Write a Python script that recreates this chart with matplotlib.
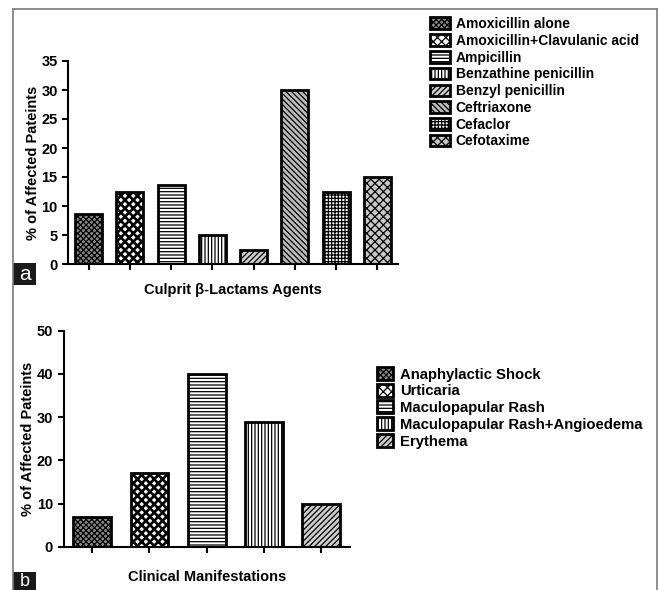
import matplotlib.pyplot as plt
from matplotlib.patches import Rectangle
from matplotlib.lines import Line2D

plt.rcParams['font.family'] = ['Liberation Sans', 'DejaVu Sans']
plt.rcParams['font.weight'] = 'bold'
plt.rcParams['hatch.linewidth'] = 0.9

# panel a: culprit beta-lactam agents
agents = ["Amoxicillin alone", "Amoxicillin+Clavulanic acid", "Ampicillin",
          "Benzathine penicillin", "Benzyl penicillin", "Ceftriaxone",
          "Cefaclor", "Cefotaxime"]
agent_pct = [8.7, 12.5, 13.7, 5.0, 2.5, 30.0, 12.5, 15.0]

# panel b: clinical manifestations
manifestations = ["Anaphylactic Shock", "Urticaria", "Maculopapular Rash",
                  "Maculopapular Rash+Angioedema", "Erythema"]
manif_pct = [7, 17, 40, 29, 10]

hatches = ['xxxxxx', 'xxxx', '-----', '|||||', '//////', '\\\\\\\\\\\\', '+++++', 'xxxx']
hatch_lw = [0.9, 1.9, 0.9, 0.9, 0.9, 0.9, 0.9, 0.9]
faces = ['#8a8a8a', 'white', 'white', 'white', '#cfcfcf', '#bdbdbd', 'white', '#c8c8c8']

W, H = 659, 590
fig = plt.figure(figsize=(W / 100, H / 100), dpi=100)


def px_axes(left, top, right, bottom):
    return fig.add_axes([left / W, 1 - bottom / H, (right - left) / W, (bottom - top) / H])


def draw_panel(ax, values, ymax, step, xlabel, xpad):
    bars = []
    for i, v in enumerate(values):
        with plt.rc_context({'hatch.linewidth': hatch_lw[i]}):
            b = ax.bar(i, v, width=0.66, color=faces[i], edgecolor='black',
                       linewidth=2, hatch=hatches[i], zorder=2)
        bars.append(b[0])
    ax.set_xlim(-0.5, len(values) - 0.5)
    ax.set_ylim(0, ymax)
    ax.set_yticks(range(0, ymax + 1, step))
    ax.set_xticks(range(len(values)))
    ax.set_xticklabels([])
    for s in ['top', 'right']:
        ax.spines[s].set_visible(False)
    for s in ['left', 'bottom']:
        ax.spines[s].set_linewidth(1.5)
    ax.tick_params(axis='both', direction='out', length=4, width=1.5, labelsize=10.5)
    ax.set_ylabel("% of Affected Pateints", fontsize=10.5, fontweight='bold', labelpad=1)
    ax.set_xlabel(xlabel, fontsize=10.5, fontweight='bold', labelpad=xpad)
    return bars


ax_a = px_axes(68, 61, 398, 264)
bars_a = draw_panel(ax_a, agent_pct, 35, 5, "Culprit β-Lactams Agents", 6)
fig.legend(bars_a, agents, loc='upper left', bbox_to_anchor=(430 / W, 1 - 17 / H),
           frameon=False, fontsize=10, borderpad=0, borderaxespad=0,
           handlelength=1.45, handleheight=0.9, labelspacing=0.2, handletextpad=0.4)

ax_b = px_axes(63.5, 330.7, 350, 547)
bars_b = draw_panel(ax_b, manif_pct, 50, 10, "Clinical Manifestations", 9)
fig.legend(bars_b, manifestations, loc='upper left', bbox_to_anchor=(377 / W, 1 - 367 / H),
           frameon=False, fontsize=10.7, borderpad=0, borderaxespad=0,
           handlelength=1.1, handleheight=0.95, labelspacing=0.15, handletextpad=0.45)

# outer frame
frame_col = '#7a7a7a'
fig.add_artist(Line2D([13 / W, 657 / W], [1 - 9 / H, 1 - 9 / H], color=frame_col, lw=1.2))
fig.add_artist(Line2D([13 / W, 13 / W], [0, 1 - 9 / H], color=frame_col, lw=1.2))
fig.add_artist(Line2D([657 / W, 657 / W], [0, 1 - 9 / H], color=frame_col, lw=1.2))

# panel tags
for tag, top, h, fs in [("a", 263, 22, 15), ("b", 572, 18, 13)]:
    fig.add_artist(Rectangle((13 / W, 1 - (top + h) / H), 23 / W, h / H,
                             facecolor='#1a1a1a', edgecolor='none'))
    fig.text(24.5 / W, 1 - (top + h / 2) / H, tag, color='white', fontsize=fs,
             fontweight='normal', ha='center', va='center')

fig.savefig('out.png', dpi=100)
